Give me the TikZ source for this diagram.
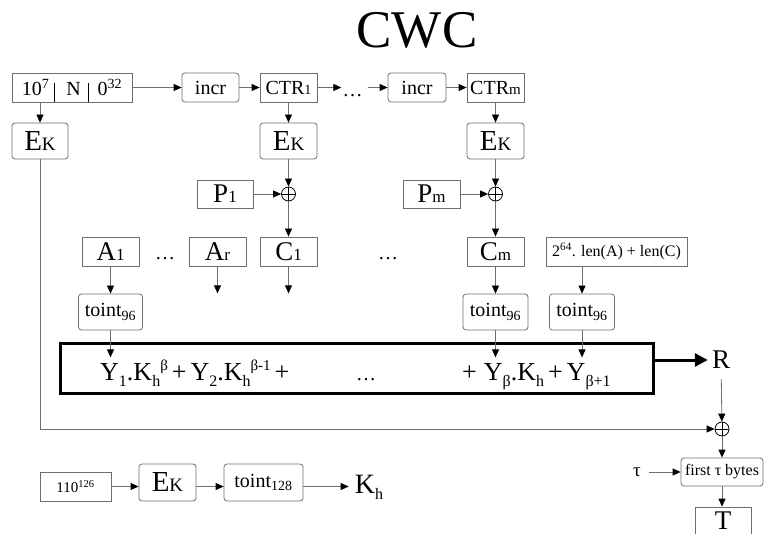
\documentclass[tikz,border=0pt]{standalone}
\definecolor{boxgray}{RGB}{110,110,110}
\usepackage{fontspec}
\setmainfont{Liberation Serif}
\usepackage{tikz}
\usetikzlibrary{arrows.meta,calc}
\newcommand{\fsz}[1]{\fontsize{#1}{#1}\selectfont}
\newcommand{\EK}{{\fsz{29}E\fsz{19}K}}
\newcommand{\lo}[1]{\raisebox{-6pt}{\fsz{16}#1}}
\newcommand{\hi}[1]{\raisebox{10pt}{\fsz{15}#1}}
\newcommand{\pl}{\hspace{4pt}+\hspace{4pt}}

\begin{document}
\begin{tikzpicture}[x=1pt,y=-1pt,
    box/.style={draw=boxgray, line width=0.8pt, inner sep=0pt, minimum height=29pt},
    rbox/.style={box, rounded corners=3pt},
    xorc/.style={circle, draw=black, line width=0.8pt, minimum size=14pt, inner sep=0pt,
      path picture={\draw[line width=0.8pt] (path picture bounding box.north) -- (path picture bounding box.south)
        (path picture bounding box.west) -- (path picture bounding box.east);}},
    flow/.style={draw=boxgray, line width=0.8pt, -{Triangle[length=8pt,width=7pt,color=black]}},
    bigflow/.style={draw=black, line width=3pt, -{Triangle[length=13pt,width=13pt]}}]
  \useasboundingbox (0,0) rectangle (765,534);

  \node[font=\fsz{53}] (title) at (417,30) {CWC};

  % counter row
  \node[box, minimum width=120pt, font=\fsz{20}] (nonce) at (72,87.5)
    {10\textsuperscript{7}\hspace{17pt}N\hspace{17pt}0\textsuperscript{32}};
  \draw[black, line width=1.2pt] ($(nonce.south west)+(43,0)$) -- ++(0,-19)
    ($(nonce.south west)+(77,0)$) -- ++(0,-19);
  \node[rbox, minimum width=57pt, font=\fsz{20}] (incr1) at (210.5,87.5) {incr};
  \node[box, minimum width=57pt, font=\fsz{20}] (ctr1) at (288.5,87.5) {CTR{\fsz{14}1}};
  \node[font=\fsz{20}, inner sep=1pt] (cdots) at (352.5,96) {\ldots};
  \node[rbox, minimum width=58pt, font=\fsz{20}] (incr2) at (417,87.5) {incr};
  \node[box, minimum width=57pt, font=\fsz{20}] (ctrm) at (495.5,87.5) {CTR{\fsz{15}m}};

  \node[rbox, minimum width=56pt, minimum height=36pt] (ek0) at (40,141) {\EK};
  \node[rbox, minimum width=57pt, minimum height=36pt] (ek1) at (288.5,141) {\EK};
  \node[rbox, minimum width=57pt, minimum height=36pt] (ek2) at (495.5,141) {\EK};

  \node[box, minimum width=56pt, minimum height=28pt, font=\fsz{27}] (p1) at (225,194) {P{\fsz{17}1}};
  \node[xorc] (x1) at (288.5,194) {};
  \node[box, minimum width=57pt, minimum height=28pt, font=\fsz{27}] (pm) at (431.5,194) {P{\fsz{17}m}};
  \node[xorc] (x2) at (495.5,194) {};

  % data blocks
  \node[box, minimum width=57pt, font=\fsz{27}] (a1) at (110.5,251.5) {A{\fsz{17}1}};
  \node[font=\fsz{20}, inner sep=1pt] (adots) at (165,259) {\ldots};
  \node[box, minimum width=57pt, font=\fsz{27}] (ar) at (217.5,251.5) {A{\fsz{17}r}};
  \node[box, minimum width=57pt, font=\fsz{27}] (c1) at (288.5,251.5) {C{\fsz{17}1}};
  \node[font=\fsz{20}, inner sep=1pt] (mdots) at (388,259) {\ldots};
  \node[box, minimum width=57pt, font=\fsz{27}] (cm) at (495.5,251.5) {C{\fsz{17}m}};
  \node[box, minimum width=141pt, font=\fsz{16}] (lenbox) at (616.5,251.5)
    {2\textsuperscript{64}. len(A) + len(C)};

  \node[rbox, minimum width=64pt, minimum height=36pt, font=\fsz{20}] (ta) at (110.5,312) {toint\textsubscript{96}};
  \node[rbox, minimum width=65pt, minimum height=36pt, font=\fsz{20}] (tc) at (495.5,312) {toint\textsubscript{96}};
  \node[rbox, minimum width=65pt, minimum height=36pt, font=\fsz{20}] (tl) at (582,312) {toint\textsubscript{96}};

  % polynomial
  \node[draw=black, line width=3pt, minimum width=593pt, minimum height=50pt] (poly) at (356.5,368) {};
  \node[anchor=base west, font=\fsz{26}, inner sep=0pt] (polyl) at (100,380)
    {Y\lo{1}.K\lo{h}\hi{β}\pl Y\lo{2}.K\lo{h}\hi{β-1}\pl};
  \node[anchor=base, font=\fsz{20}, inner sep=0pt] (polyd) at (366,380) {\ldots};
  \node[anchor=base west, font=\fsz{26}, inner sep=0pt] (polyr) at (462,380)
    {+\hspace{7pt}Y\lo{β}.K\lo{h}\pl Y\lo{β+1}};
  \node[font=\fsz{27}, inner sep=4pt] (R) at (721,360) {R};
  \node[xorc] (x3) at (722,429) {};

  \node[rbox, minimum width=82pt, minimum height=28pt, font=\fsz{16}] (tb) at (722,472) {first τ bytes};
  \node[font=\fsz{19}, inner sep=4pt] (tau) at (637,472) {τ};
  \node[box, minimum width=56pt, minimum height=28pt, font=\fsz{27}] (T) at (723,521) {T};

  % hash key
  \node[box, minimum width=71pt, font=\fsz{15}] (b110) at (75.5,486.5) {110\textsuperscript{126}};
  \node[rbox, minimum width=57pt, minimum height=37pt] (ek3) at (167.5,482.5) {\EK};
  \node[rbox, minimum width=79pt, minimum height=37pt, font=\fsz{20}] (t128) at (263.5,482.5) {toint\textsubscript{128}};
  \node[font=\fsz{28}, inner sep=6pt] (kh) at (369,487) {K\lo{h}};

  \draw[flow] (nonce) -- (incr1);
  \draw[flow] (incr1) -- (ctr1);
  \draw[flow] (ctr1) -- (ctr1 -| cdots.west);
  \draw[flow, shorten <=4pt] (cdots.east |- incr2) -- (incr2);
  \draw[flow] (incr2) -- (ctrm);
  \draw[flow] (ek0.north |- nonce.south) -- (ek0.north);
  \draw[flow] (ctr1) -- (ek1);
  \draw[flow] (ctrm) -- (ek2);
  \draw[flow] (ek1) -- (x1);
  \draw[flow] (ek2) -- (x2);
  \draw[flow] (p1) -- (x1);
  \draw[flow] (pm) -- (x2);
  \draw[flow] (x1) -- (c1);
  \draw[flow] (x2) -- (cm);
  \draw[flow] (a1) -- (ta);
  \draw[flow] (ar.south) -- ++(0,27);
  \draw[flow] (c1.south) -- ++(0,27);
  \draw[flow] (cm) -- (tc);
  \draw[flow] (tl.north |- lenbox.south) -- (tl.north);
  \draw[flow] (ta.south) -- ++(0,27);
  \draw[flow] (tc.south) -- ++(0,27);
  \draw[flow] (tl.south) -- ++(0,27);
  \draw[bigflow] (poly.east |- R) -- (R.west);
  \draw[flow, shorten <=6pt] (R) -- (x3);
  \draw[flow] (ek0.south) |- (x3.west);
  \draw[flow] (x3) -- (tb);
  \draw[flow, shorten <=4pt] (tau) -- (tb);
  \draw[flow] (tb.south) -- (tb.south |- T.north);
  \draw[flow] (b110.east) -- (b110.east -| ek3.west);
  \draw[flow] (ek3.east |- b110.east) -- (b110.east -| t128.west);
  \draw[flow] (t128.east |- b110.east) -- (b110.east -| kh.west);
\end{tikzpicture}
\end{document}
